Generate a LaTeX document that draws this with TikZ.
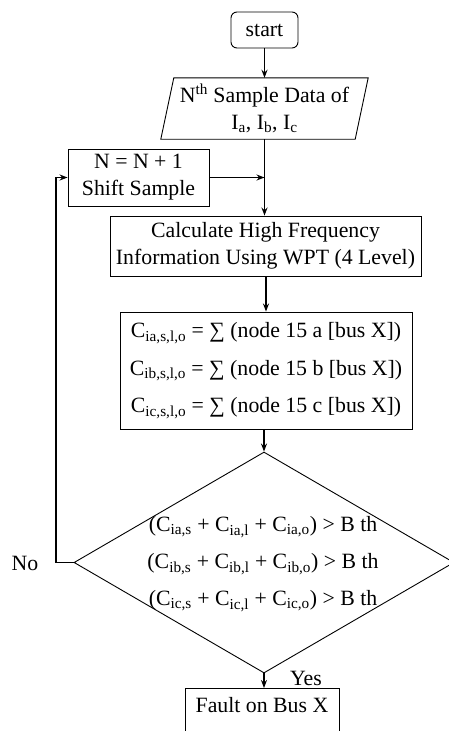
\documentclass[tikz,border=0pt]{standalone}
\usepackage{fontspec}
\setmainfont{Liberation Serif}
\usetikzlibrary{shapes.geometric,arrows.meta,calc}
\begin{document}
\begin{tikzpicture}[x=1pt,y=-1pt,
  every node/.style={font=\fontsize{21.8}{27}\selectfont, inner sep=0pt, align=center},
  boxnode/.style={draw, line width=0.9pt},
  arr/.style={line width=1.5pt, -{Stealth[length=8pt,width=6pt]}},
  plain/.style={line width=1.5pt}]
\useasboundingbox (0,0) rectangle (449,731);
\node[boxnode, rounded corners=6pt, minimum width=67pt, minimum height=36pt] (start) at (264.5,30) {start};
\node[minimum width=194pt, minimum height=61pt] (io) at (264.5,108.5) {N\textsuperscript{th} Sample Data of\\I\textsubscript{a}, I\textsubscript{b}, I\textsubscript{c}};
\draw[line width=0.9pt] ($(io.south west)+(-6.5,0)$) -- ($(io.south east)+(-6.5,0)$) -- ($(io.north east)+(6.5,0)$) -- ($(io.north west)+(6.5,0)$) -- cycle;
\node[boxnode, minimum width=141pt, minimum height=57pt] (shift) at (138.5,177.5) {N = N + 1\\Shift Sample};
\node[boxnode, minimum width=311pt, minimum height=60pt] (calc) at (265.5,246) {Calculate High Frequency\\Information Using WPT (4 Level)};
\node[boxnode, minimum width=292pt, minimum height=117pt] (cbox) at (266,370.5) {C\textsubscript{ia,s,l,o} = ∑ (node 15 a [bus X])\\[10.5pt]C\textsubscript{ib,s,l,o} = ∑ (node 15 b [bus X])\\[10.5pt]C\textsubscript{ic,s,l,o} = ∑ (node 15 c [bus X])};
\node[draw, line width=0.9pt, diamond, minimum width=380pt, minimum height=221pt] (dec) at (264,562.5) {};
\node (dect) at (263,564) {(C\textsubscript{ia,s} + C\textsubscript{ia,l} + C\textsubscript{ia,o}) > B th\\[10pt](C\textsubscript{ib,s} + C\textsubscript{ib,l} + C\textsubscript{ib,o}) > B th\\[10pt](C\textsubscript{ic,s} + C\textsubscript{ic,l} + C\textsubscript{ic,o}) > B th};
\node[boxnode, anchor=north, minimum width=154pt, inner ysep=9pt, text depth=30pt] (fault) at (262,688) {Fault on Bus X};
\coordinate (merge) at (io.south |- shift.east);
\coordinate (nocorner) at (56,562.5);
\coordinate (upcorner) at (56,177.5);
\draw[arr] (start.south) -- (io.north);
\draw[arr] (io.south) -- (io.south |- calc.north);
\draw[arr] (shift.east) -- (merge);
\draw[arr] (calc.south -| cbox.north) -- (cbox.north);
\draw[arr] (cbox.south -| dec.north) -- (dec.north);
\draw[arr] (dec.south) -- (dec.south |- fault.north);
\draw[arr] (dec.west) -- (nocorner) -- (upcorner) -- (shift.west);
\node (no) at (25,563) {No};
\node (yes) at (306,678) {Yes};
\end{tikzpicture}
\end{document}
